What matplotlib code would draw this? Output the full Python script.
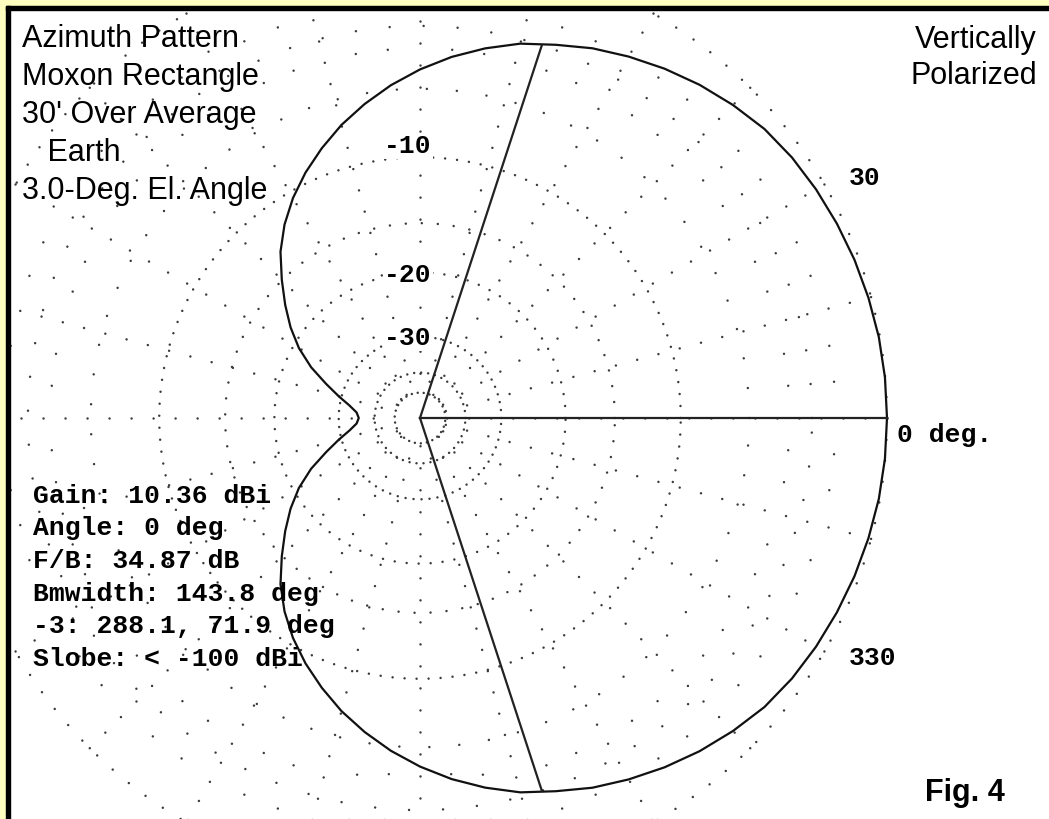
import matplotlib

matplotlib.use("Agg")

import matplotlib.pyplot as plt
import numpy as np
from matplotlib.patches import Rectangle

W, H, DPI = 1049, 819, 100
CX, CY, R_PX = 420, 418, 467  # centre of the plot and radius of the 0 dB ring, pixels

# azimuth angle (deg) and level below the 10.36 dBi maximum (dB)
ANGLES = list(range(0, 360, 5)) + [360]
REL_DB = [
    0.00, 0.01, 0.04, 0.10, 0.17, 0.26, 0.36, 0.48, 0.65, 0.92,
    1.22, 1.56, 1.93, 2.32, 2.78, 3.20, 3.75, 4.35, 5.02, 5.75,
    6.55, 7.40, 8.35, 9.35, 10.45, 11.70, 13.15, 14.95, 16.75, 18.60,
    20.70, 23.30, 26.45, 29.40, 32.20, 34.20, 34.87, 34.20, 32.20, 29.40,
    26.45, 23.30, 20.70, 18.60, 16.75, 14.95, 13.15, 11.70, 10.45, 9.35,
    8.35, 7.40, 6.55, 5.75, 5.02, 4.35, 3.75, 3.20, 2.78, 2.32,
    1.93, 1.56, 1.22, 0.92, 0.65, 0.48, 0.36, 0.26, 0.17, 0.10,
    0.04, 0.01, 0.00,
]
MAX_ANGLE = 0.0
BEAM_EDGES = [71.9, 288.1]
BEAM_EDGE_DB = 3.0

GRID_RINGS_DB = [0, 3, 6, 10, 15, 20, 30, 40, 50]
GRID_RING_GAPS_PX = [21, 34, 30, 12, 16, 12, 8, 7, 6]
MAJOR_SPOKES = list(range(0, 360, 15))
MINOR_SPOKES = [a for a in range(0, 360, 5) if a % 15]

RING_LABELS = ["-10", "-20", "-30"]
RING_LABEL_POS = [(408, 153), (408, 282), (408, 345)]

TITLE_LINES = ["Azimuth Pattern", "Moxon Rectangle", "30' Over Average", "   Earth", "3.0-Deg. El. Angle"]
POL_LINES = ["Vertically", "Polarized"]
INFO_LINES = [
    "Gain: 10.36 dBi",
    "Angle: 0 deg",
    "F/B: 34.87 dB",
    "Bmwidth: 143.8 deg",
    "-3: 288.1, 71.9 deg",
    "Slobe: < -100 dBi",
]

YELLOW = "#FFFFC0"
DOT = "#3a3a3a"
SANS = "Liberation Sans"
MONO = "Liberation Mono"

plt.rcParams["lines.scale_dashes"] = False


def arrl_radius(att_db):
    # ARRL log scale: radius shrinks by 0.89 for every 2 dB
    return 0.89 ** (np.asarray(att_db, dtype=float) / 2.0)


def px(x, y):
    return x / W, 1 - y / H


def dotted(gap_px):
    return (0, (0.01, gap_px * 0.72))


fig = plt.figure(figsize=(W / DPI, H / DPI), dpi=DPI, facecolor="white")

ax = fig.add_axes(
    [(CX - R_PX) / W, (H - CY - R_PX) / H, 2 * R_PX / W, 2 * R_PX / H],
    projection="polar",
)
ax.set_ylim(0, 1)
ax.axis("off")

dot_kw = dict(lw=1.8, color=DOT, dash_capstyle="round", clip_on=False, zorder=1)

full = np.radians(np.linspace(0, 360, 721))
for att, gap in zip(GRID_RINGS_DB, GRID_RING_GAPS_PX):
    r = float(arrl_radius(att))
    ax.plot(full, np.full_like(full, r), ls=dotted(gap), **dot_kw)

r_in = float(arrl_radius(50))
for a in MAJOR_SPOKES:
    t = np.radians(a)
    ax.plot([t, t], [1.0, r_in], ls=dotted(22), **dot_kw)
for a in MINOR_SPOKES:
    t = np.radians(a)
    ax.plot([t, t], [float(arrl_radius(2)), float(arrl_radius(6))], ls=dotted(46), **dot_kw)

# pattern
theta = np.radians(ANGLES)
ax.plot(theta, arrl_radius(REL_DB), color="#111111", lw=1.6, clip_on=False, zorder=3)

# max-gain and -3 dB lines
ax.plot([0, np.radians(MAX_ANGLE)], [0, 1.0], color="#222222", lw=1.6, clip_on=False, zorder=3)
for a in BEAM_EDGES:
    ax.plot([0, np.radians(a)], [0, float(arrl_radius(BEAM_EDGE_DB))], color="#222222",
            lw=1.6, clip_on=False, zorder=3)

# frame
fig.patches.append(Rectangle((0, 0), 6 / W, 1, transform=fig.transFigure, color=YELLOW, zorder=10))
fig.patches.append(Rectangle((0, 1 - 6 / H), 1, 6 / H, transform=fig.transFigure, color=YELLOW, zorder=10))
fig.patches.append(Rectangle((6 / W, 0), 4 / W, 1 - 6 / H, transform=fig.transFigure, color="black", zorder=10))
fig.patches.append(Rectangle((6 / W, 1 - 10 / H), 1 - 6 / W, 4 / H, transform=fig.transFigure, color="black", zorder=10))

# texts
for i, line in enumerate(TITLE_LINES):
    fig.text(*px(22, 47 + 38 * i), line, family=SANS, fontsize=22, va="baseline", ha="left")
for i, line in enumerate(POL_LINES):
    fig.text(*px(1037, 48 + 36 * i), line, family=SANS, fontsize=22, va="baseline", ha="right")
for i, line in enumerate(INFO_LINES):
    fig.text(*px(33, 503 + 32.5 * i), line, family=MONO, weight="bold", fontsize=19,
             va="baseline", ha="left")
for label, (x, y) in zip(RING_LABELS, RING_LABEL_POS):
    fig.text(*px(x, y), label, family=MONO, weight="bold", fontsize=19, va="baseline", ha="center",
             bbox=dict(facecolor="white", edgecolor="none", pad=0.5))
fig.text(*px(849, 185), "30", family=MONO, weight="bold", fontsize=19, va="baseline", ha="left")
fig.text(*px(849, 665), "330", family=MONO, weight="bold", fontsize=19, va="baseline", ha="left")
fig.text(*px(897, 442), "0 deg.", family=MONO, weight="bold", fontsize=19, va="baseline", ha="left")
fig.text(*px(925, 801), "Fig. 4", family=SANS, weight="bold", fontsize=22, va="baseline", ha="left")

fig.savefig("out.png", dpi=DPI, facecolor="white")
